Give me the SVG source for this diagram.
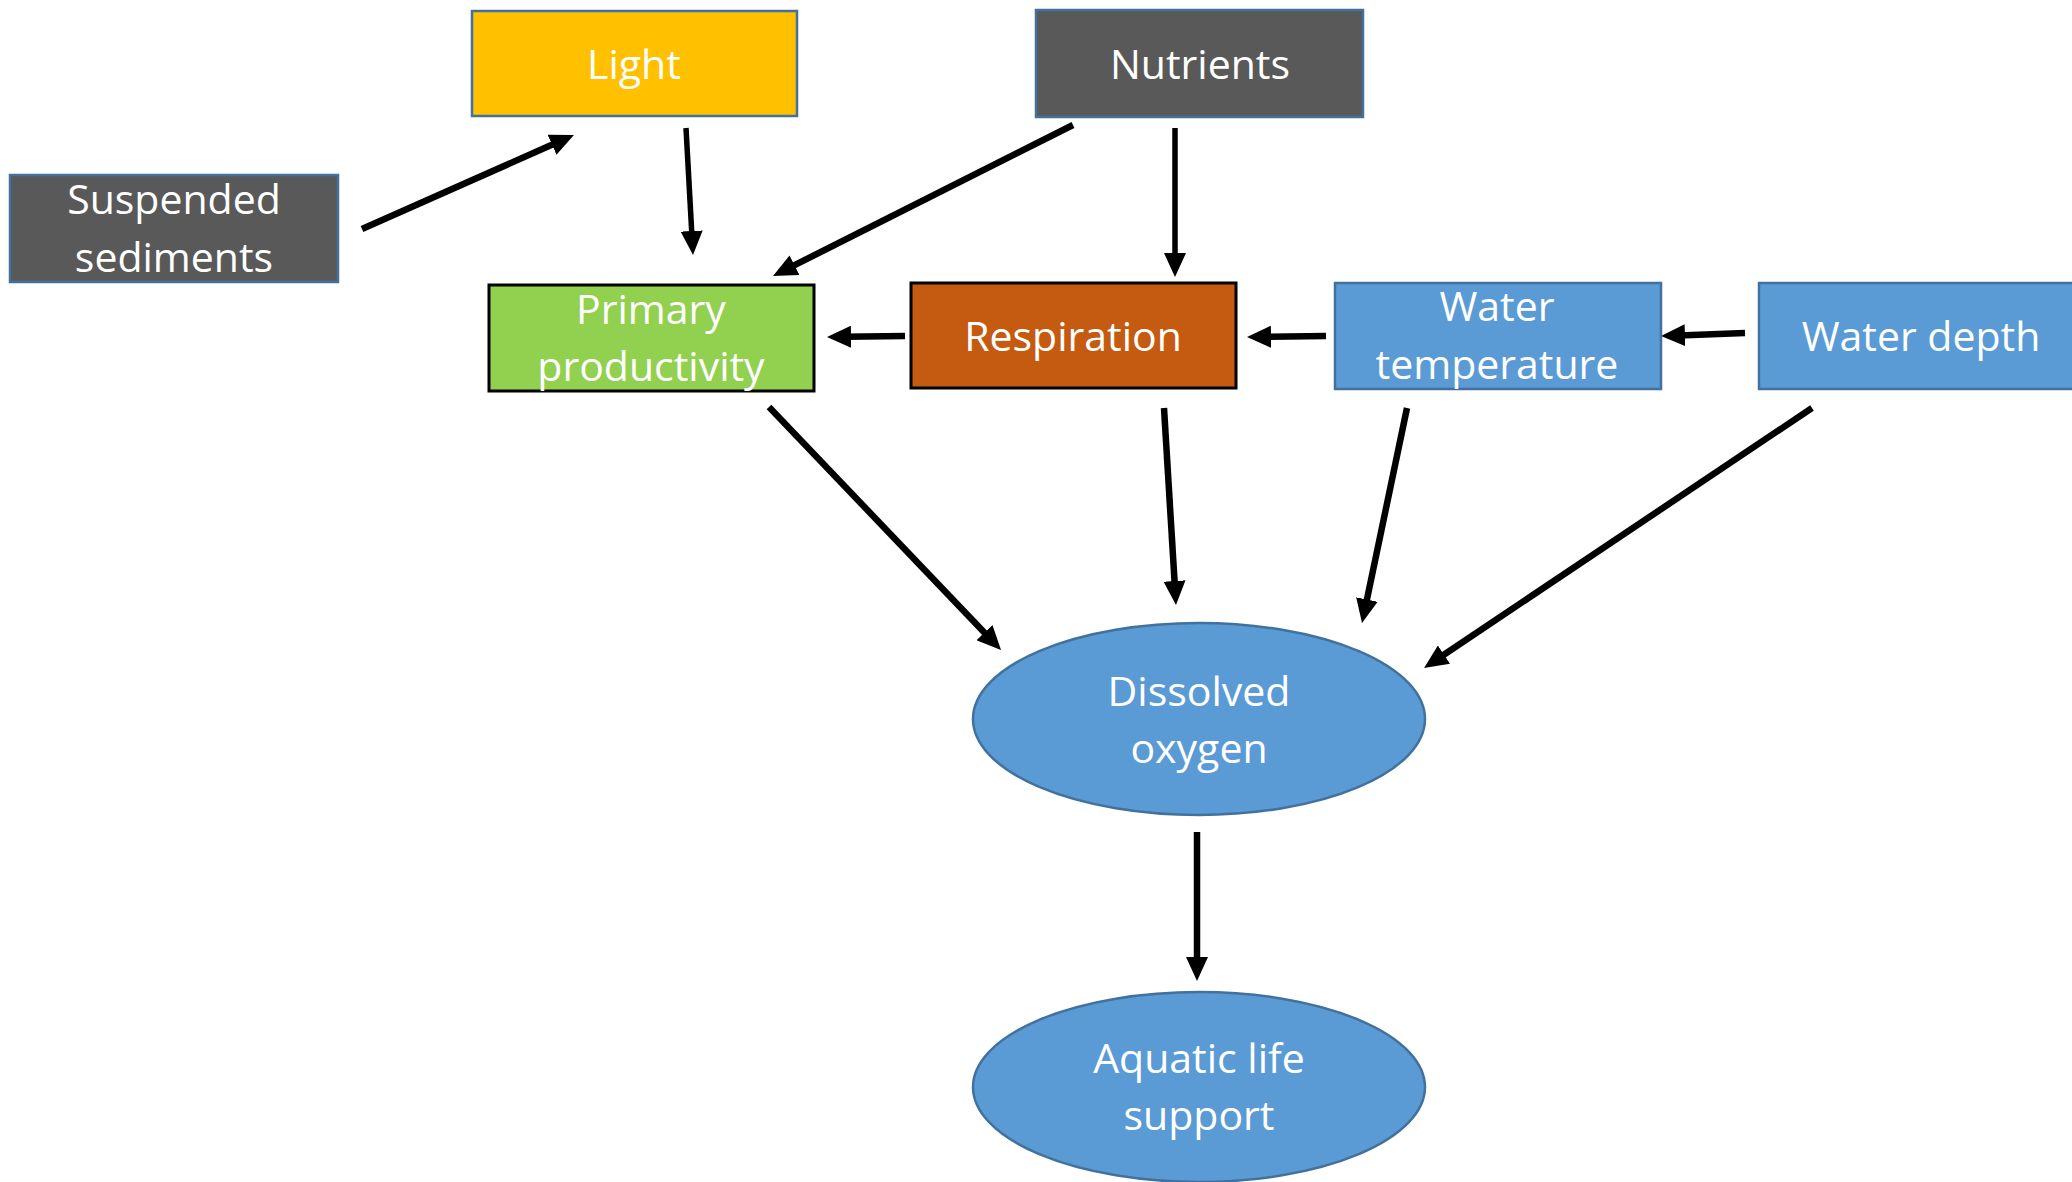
<svg xmlns="http://www.w3.org/2000/svg" width="2072" height="1182" viewBox="0 0 2072 1182">
  <style>
    .box { stroke: #41719C; stroke-width: 2.5; }
    .dark { stroke: #000000; stroke-width: 3; }
    .lbl { font-family: "Open Sans", "Noto Sans", "DejaVu Sans", sans-serif; font-size: 41px; fill: #FFFFFF; text-anchor: middle; }
    .link { stroke: #000000; stroke-width: 6.5; fill: none; marker-end: url(#arrow); }
    .thin { stroke-width: 5.5; }
  </style>
  <defs>
    <marker id="arrow" viewBox="0 0 24 22" markerUnits="userSpaceOnUse" markerWidth="24" markerHeight="22" refX="6" refY="11" orient="auto">
      <path d="M0,0 L24,11 L0,22 z" fill="#000000"/>
    </marker>
  </defs>
  <rect width="2072" height="1182" fill="#FFFFFF"/>

  <!-- connectors -->
  <g id="connectors">
    <line class="link" x1="362" y1="229" x2="557.5" y2="142.3"/>
    <line class="link thin" x1="686" y1="128" x2="692" y2="237"/>
    <line class="link" x1="1073" y1="125" x2="789.1" y2="267.9"/>
    <line class="link thin" x1="1175" y1="128" x2="1175" y2="259"/>
    <line class="link" x1="905" y1="336" x2="845" y2="336.8"/>
    <line class="link" x1="1326" y1="336" x2="1265" y2="336.8"/>
    <line class="link" x1="1745" y1="333" x2="1679" y2="335.4"/>
    <line class="link" x1="769" y1="407" x2="988.6" y2="637"/>
    <line class="link" x1="1164" y1="408" x2="1174.9" y2="587"/>
    <line class="link" x1="1407" y1="408" x2="1365.7" y2="605.4"/>
    <line class="link" x1="1812" y1="408" x2="1439" y2="658"/>
    <line class="link" x1="1197" y1="832" x2="1197" y2="963"/>
  </g>

  <!-- nodes -->
  <g id="light">
    <rect class="box" x="472" y="11" width="325" height="105" fill="#FFC000"/>
    <text class="lbl" x="634" y="79">Light</text>
  </g>
  <g id="nutrients">
    <rect class="box" x="1036" y="10" width="327" height="107" fill="#595959"/>
    <text class="lbl" x="1200" y="79">Nutrients</text>
  </g>
  <g id="suspended-sediments">
    <rect class="box" x="10" y="175" width="328" height="107" fill="#595959"/>
    <text class="lbl" x="174" y="214">Suspended</text>
    <text class="lbl" x="174" y="272">sediments</text>
  </g>
  <g id="primary-productivity">
    <rect class="dark" x="489" y="285" width="325" height="106" fill="#92D050"/>
    <text class="lbl" x="651" y="324">Primary</text>
    <text class="lbl" x="651" y="381">productivity</text>
  </g>
  <g id="respiration">
    <rect class="dark" x="911" y="283" width="325" height="105" fill="#C55A11"/>
    <text class="lbl" x="1073" y="351">Respiration</text>
  </g>
  <g id="water-temperature">
    <rect class="box" x="1335" y="283" width="326" height="106" fill="#5B9BD5"/>
    <text class="lbl" x="1497" y="321">Water</text>
    <text class="lbl" x="1497" y="379">temperature</text>
  </g>
  <g id="water-depth">
    <rect class="box" x="1759" y="283" width="320" height="106" fill="#5B9BD5"/>
    <text class="lbl" x="1921" y="351">Water depth</text>
  </g>
  <g id="dissolved-oxygen">
    <ellipse class="box" cx="1199" cy="719" rx="226" ry="96" fill="#5B9BD5"/>
    <text class="lbl" x="1199" y="706">Dissolved</text>
    <text class="lbl" x="1199" y="763">oxygen</text>
  </g>
  <g id="aquatic-life-support">
    <ellipse class="box" cx="1199" cy="1087" rx="226" ry="95" fill="#5B9BD5"/>
    <text class="lbl" x="1199" y="1073">Aquatic life</text>
    <text class="lbl" x="1199" y="1130">support</text>
  </g>
</svg>
